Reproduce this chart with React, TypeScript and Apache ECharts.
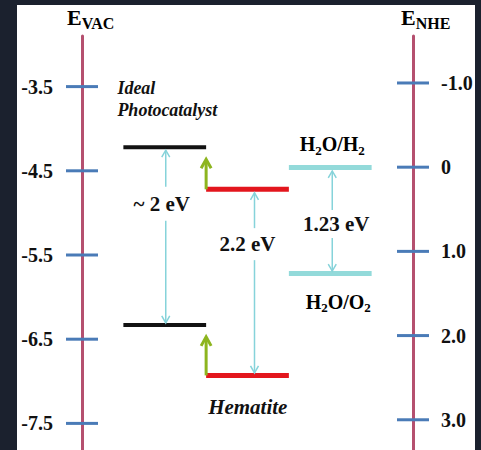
import React, { useEffect, useRef } from 'react';
import * as echarts from 'echarts';

// ---- data ----
const columns = ['', 'Ideal Photocatalyst', 'Hematite', 'Water', ''];
const idealLevels = [-4.22, -6.33]; // CB, VB (eV vs vacuum)
const hematiteLevels = [-4.72, -6.93]; // CB, VB
const waterLevels = [-4.46, -5.72]; // H2O/H2, H2O/O2
const gapLabels = ['~ 2 eV', '2.2 eV', '1.23 eV'];
const vacTicks = [-3.5, -4.5, -5.5, -6.5, -7.5];
const nheTicks = [-1.0, 0, 1.0, 2.0, 3.0];
const vacRange = [-7.816, -2.899];
const nheRange = [-1.558, 3.359];

// ---- styles ----
const SERIF = "'Liberation Serif', 'Times New Roman', serif";
const AXIS_COLOR = '#b5506f';
const TICK_COLOR = '#4a7bb7';
const ARROW_COLOR = '#86d3da';
const GREEN = '#8db51f';
const barColors = ['#121212', '#e3161d', '#93dada'];
const barThick = [4, 5, 5];
const arrowDx = [1, 7, 2];
const labelDx = [-3, 0, 6];
const labelFrac = [0.31, 0.285, 0.53];
const halfGap = [17, 16, 14];

function subRich(main: number, sub: number, shift: number) {
  return {
    n: { fontFamily: SERIF, fontWeight: 'bold', fontSize: main, color: '#111' },
    s: { fontFamily: SERIF, fontWeight: 'bold', fontSize: sub, color: '#111', padding: [shift, 0, 0, 0] },
  };
}

export default function App() {
  const ref = useRef<HTMLDivElement>(null);
  useEffect(() => {
    if (!ref.current) return;
    const chart = echarts.init(ref.current, undefined, { renderer: 'svg' });

    const levelData = [
      [1, idealLevels[0], idealLevels[1]],
      [2, hematiteLevels[0], hematiteLevels[1]],
      [3, waterLevels[0], waterLevels[1]],
    ];
    const greenData = [
      [2, hematiteLevels[0], idealLevels[0]],
      [2, hematiteLevels[1], idealLevels[1]],
    ];

    const tickRender = (catIdx: number) => (params: any, api: any) => {
      const p = api.coord([catIdx, api.value(0)]);
      return {
        type: 'line',
        shape: { x1: p[0] - 16, y1: p[1], x2: p[0] + 16, y2: p[1] },
        style: { stroke: TICK_COLOR, lineWidth: 3 },
      };
    };

    const option: any = {
      animation: false,
      backgroundColor: '#1b212e',
      graphic: [
        { type: 'rect', z: -10, shape: { x: 17, y: 5, width: 458, height: 445 }, style: { fill: '#ffffff' } },
        {
          type: 'text', x: 67, y: 17,
          style: {
            text: '{n|E}{s|VAC}', rich: subRich(22, 16, 12),
            verticalAlign: 'middle', align: 'left',
          },
        },
        {
          type: 'text', x: 401, y: 17,
          style: {
            text: '{n|E}{s|NHE}', rich: subRich(22, 16, 12),
            verticalAlign: 'middle', align: 'left',
          },
        },
      ],
      grid: { left: 82, right: 68, top: 36, bottom: 0 },
      xAxis: {
        type: 'category', data: columns, boundaryGap: false, show: false,
      },
      yAxis: [
        {
          type: 'value', min: vacRange[0], max: vacRange[1], position: 'left',
          axisLine: { show: true, lineStyle: { color: AXIS_COLOR, width: 3 } },
          axisTick: { show: false }, splitLine: { show: false },
          axisLabel: {
            customValues: vacTicks, margin: 29,
            fontFamily: SERIF, fontWeight: 'bold', fontSize: 20, color: '#111',
            formatter: (v: number) => v.toFixed(1),
          },
        },
        {
          type: 'value', min: nheRange[0], max: nheRange[1], inverse: true, position: 'right',
          axisLine: { show: true, lineStyle: { color: AXIS_COLOR, width: 3 } },
          axisTick: { show: false }, splitLine: { show: false },
          axisLabel: {
            customValues: nheTicks, margin: 28,
            fontFamily: SERIF, fontWeight: 'bold', fontSize: 20, color: '#111',
            formatter: (v: number) => (v === 0 ? '0' : v.toFixed(1)),
          },
        },
      ],
      series: [
        {
          type: 'custom', name: 'vacTicks', clip: false, xAxisIndex: 0, yAxisIndex: 0,
          data: vacTicks.map((v) => [v]), encode: { y: 0 },
          renderItem: tickRender(0), z: 3,
        },
        {
          type: 'custom', name: 'nheTicks', clip: false, xAxisIndex: 0, yAxisIndex: 1,
          data: nheTicks.map((v) => [v]), encode: { y: 0 },
          renderItem: tickRender(4), z: 3,
        },
        {
          type: 'custom', name: 'levels', clip: false, yAxisIndex: 0,
          data: levelData, encode: { x: 0, y: [1, 2] },
          renderItem: (params: any, api: any) => {
            const i = params.dataIndex;
            const cat = api.value(0);
            const top = api.coord([cat, api.value(1)]);
            const bot = api.coord([cat, api.value(2)]);
            const w = api.size([1, 0])[0];
            const cx = top[0];
            const x0 = cx - w / 2;
            const th = barThick[i];
            const children: any[] = [];
            children.push({ type: 'rect', shape: { x: x0, y: top[1] - th / 2, width: w, height: th }, style: { fill: barColors[i] } });
            children.push({ type: 'rect', shape: { x: x0, y: bot[1] - th / 2, width: w, height: th }, style: { fill: barColors[i] } });
            // gap arrow
            const ax = cx + arrowDx[i];
            const yA = top[1] + th / 2 + 1;
            const yB = bot[1] - th / 2;
            const ty = yA + (yB - yA) * labelFrac[i];
            const ls = { stroke: ARROW_COLOR, lineWidth: 1.5, fill: 'none' };
            children.push({ type: 'line', shape: { x1: ax, y1: yA, x2: ax, y2: ty - halfGap[i] }, style: ls });
            children.push({ type: 'line', shape: { x1: ax, y1: ty + halfGap[i], x2: ax, y2: yB }, style: ls });
            children.push({ type: 'polyline', shape: { points: [[ax - 4, yA + 7], [ax, yA], [ax + 4, yA + 7]] }, style: ls });
            children.push({ type: 'polyline', shape: { points: [[ax - 4, yB - 7], [ax, yB], [ax + 4, yB - 7]] }, style: ls });
            children.push({
              type: 'text', x: cx + labelDx[i], y: ty,
              style: {
                text: gapLabels[i], fontFamily: SERIF, fontWeight: 'bold', fontSize: 21, fill: '#111',
                align: 'center', verticalAlign: 'middle',
              },
            });
            if (i === 0) {
              children.push({
                type: 'text', x: x0 - 6, y: top[1] - 48,
                style: {
                  text: 'Ideal\nPhotocatalyst', fontFamily: SERIF, fontWeight: 'bold', fontStyle: 'italic',
                  fontSize: 18, lineHeight: 22, fill: '#111', align: 'left', verticalAlign: 'middle',
                },
              });
            } else if (i === 1) {
              children.push({
                type: 'text', x: x0 + 2, y: bot[1] + 32,
                style: {
                  text: 'Hematite', fontFamily: SERIF, fontWeight: 'bold', fontStyle: 'italic',
                  fontSize: 21, fill: '#111', align: 'left', verticalAlign: 'middle',
                },
              });
            } else {
              children.push({
                type: 'text', x: cx + 2, y: top[1] - 23,
                style: { text: '{n|H}{s|2}{n|O/H}{s|2}', rich: subRich(20, 13, 12), align: 'center', verticalAlign: 'middle' },
              });
              children.push({
                type: 'text', x: cx + 8, y: bot[1] + 28,
                style: { text: '{n|H}{s|2}{n|O/O}{s|2}', rich: subRich(20, 13, 12), align: 'center', verticalAlign: 'middle' },
              });
            }
            return { type: 'group', children };
          },
          z: 4,
        },
        {
          type: 'custom', name: 'shift', clip: false, yAxisIndex: 0,
          data: greenData, encode: { x: 0, y: [1, 2] },
          renderItem: (params: any, api: any) => {
            const cat = api.value(0);
            const from = api.coord([cat, api.value(1)]);
            const to = api.coord([cat, api.value(2)]);
            const w = api.size([1, 0])[0];
            const x = from[0] - w / 2;
            const yTip = to[1] + 12;
            const st = { stroke: GREEN, lineWidth: 3, fill: 'none' };
            return {
              type: 'group',
              children: [
                { type: 'line', shape: { x1: x, y1: from[1], x2: x, y2: yTip + 1 }, style: st },
                { type: 'polyline', shape: { points: [[x - 5, yTip + 9], [x, yTip], [x + 5, yTip + 9]] }, style: st },
              ],
            };
          },
          z: 5,
        },
      ],
    };
    chart.setOption(option);
    return () => chart.dispose();
  }, []);
  return <div ref={ref} style={{ position: 'absolute', left: 0, top: 0, width: 481, height: 450 }} />;
}
